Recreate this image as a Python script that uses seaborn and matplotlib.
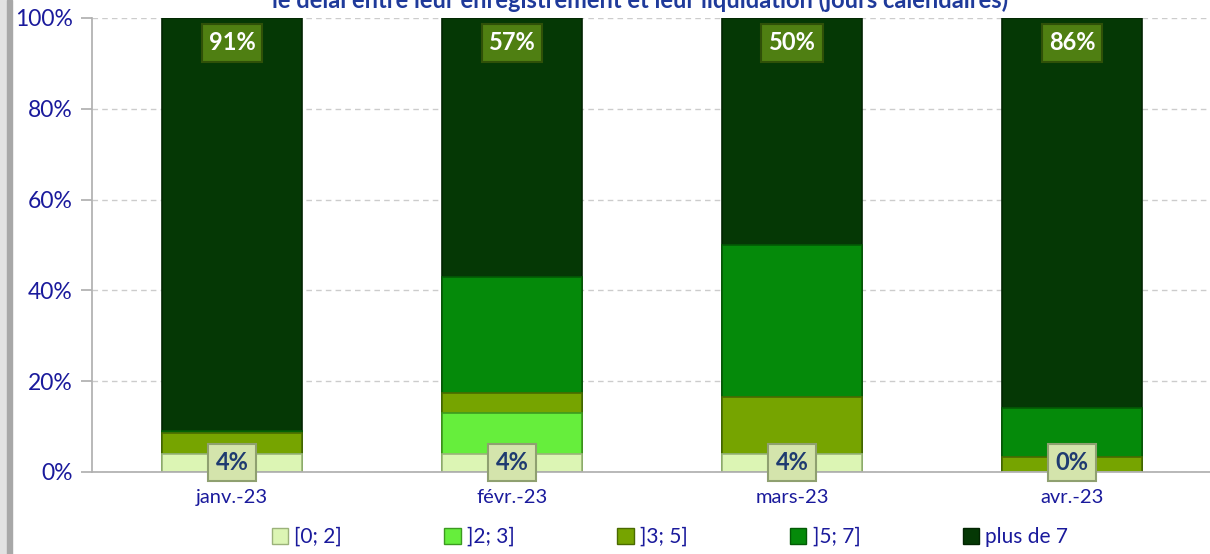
import numpy as np
import pandas as pd
import matplotlib
matplotlib.use('Agg')
import matplotlib.pyplot as plt
from matplotlib.patches import Patch, Rectangle
import seaborn as sns

# data (percent of files per delay class)
months = ['janv.-23', 'févr.-23', 'mars-23', 'avr.-23']
classes = ['[0; 2]', ']2; 3]', ']3; 5]', ']5; 7]', 'plus de 7']
d_0_2 = [4, 4, 4, 0]
d_2_3 = [0, 9, 0, 0]
d_3_5 = [4.5, 4.5, 12.5, 3.3]
d_5_7 = [0.5, 25.5, 33.5, 10.7]
d_7_plus = [91, 57, 50, 86]

title = "le délai entre leur enregistrement et leur liquidation (jours calendaires)"

fills = ['#dcf5b4', '#66ee3c', '#76a400', '#058a0a', '#053805']
edges = ['#9bb27a', '#3c9a20', '#4a6a00', '#035a05', '#022402']
navy = '#1a1a9c'

sns.set_theme(style='white')
plt.rcParams['font.family'] = ['Lato', 'DejaVu Sans']

df = pd.DataFrame({'mois': months, classes[0]: d_0_2, classes[1]: d_2_3,
                   classes[2]: d_3_5, classes[3]: d_5_7, classes[4]: d_7_plus})
cum = df[classes].cumsum(axis=1)

fig = plt.figure(figsize=(12.1, 5.54), dpi=100)
ax = fig.add_axes([92 / 1210, 82 / 554, 1120 / 1210, 454 / 554])

# stacked bars: draw cumulative totals from the top class down
for k in range(len(classes) - 1, -1, -1):
    sns.barplot(x=df['mois'], y=cum[classes[k]], order=months, color=fills[k],
                saturation=1, width=0.5, edgecolor=edges[k], linewidth=1.2, ax=ax)

ax.set_xlim(-0.5, 3.5)
ax.set_ylim(0, 100)
ax.set_yticks(np.arange(0, 101, 20))
ax.set_yticklabels([f'{t}%' for t in range(0, 101, 20)], color=navy, fontsize=16.5)
ax.set_xticks(range(len(months)))
ax.set_xticklabels(months, color=navy, fontsize=14.5)
ax.set_xlabel('')
ax.set_ylabel('')
ax.tick_params(axis='y', length=8, color='#b0b0b0', left=True, pad=6)
ax.tick_params(axis='x', length=0, pad=12)
ax.set_axisbelow(True)
ax.yaxis.grid(True, linestyle=(0, (4, 3)), color='#cccccc', linewidth=1)
for s in ['top', 'right']:
    ax.spines[s].set_visible(False)
ax.spines['left'].set_color('#b0b0b0')
ax.spines['bottom'].set_color('#b0b0b0')

# value labels: first class at the base, last class near the top
for i in range(len(months)):
    ax.text(i, 94.5, f'{d_7_plus[i]:.0f}%', ha='center', va='center', color='white',
            fontsize=17, fontweight='bold',
            bbox=dict(boxstyle='square,pad=0.3', fc='#4f7f12', ec='#2f5008', lw=1.5))
    ax.text(i, 2.1, f'{d_0_2[i]:.0f}%', ha='center', va='center', color='#1f3b70',
            fontsize=17, fontweight='bold', clip_on=False, zorder=5,
            bbox=dict(boxstyle='square,pad=0.3', fc='#d4e4ac', ec='#8fa070', lw=1.5))

handles = [Patch(facecolor=fills[k], edgecolor=edges[k], label=classes[k]) for k in range(len(classes))]
fig.legend(handles=handles, loc='center', bbox_to_anchor=(670 / 1210, 1 - 537 / 554), ncol=5,
           frameon=False, fontsize=15, labelcolor=navy, handlelength=0.8, handleheight=0.8,
           handletextpad=0.3, columnspacing=4.9)

# title (cut off at the top, as in the reference)
fig.text(640 / 1210, 1 - 8 / 554, title, ha='center', va='baseline', color='#1f3a9a',
         fontsize=17, fontweight='bold')

# grey border on the left edge
fig.patches.append(Rectangle((0, 0), 7 / 1210, 1, transform=fig.transFigure, color='#e2e2e2'))
fig.patches.append(Rectangle((7 / 1210, 0), 5 / 1210, 1, transform=fig.transFigure, color='#a8a8a8'))

fig.savefig('out.png', dpi=100)
